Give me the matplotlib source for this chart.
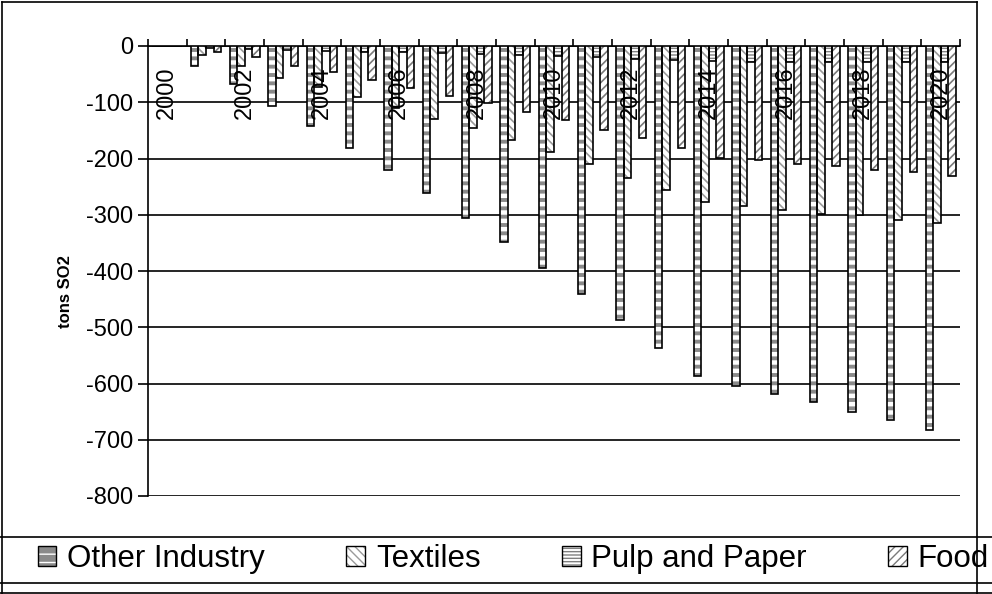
import numpy as np
import matplotlib.pyplot as plt
from matplotlib.patches import Patch
from matplotlib.lines import Line2D
from matplotlib.legend_handler import HandlerTuple

plt.rcParams['font.family'] = ['Liberation Sans', 'DejaVu Sans']
plt.rcParams['axes.unicode_minus'] = False

# Data (tons SO2, change relative to 2000)
years = list(range(2000, 2021))
other_industry = [0, -35, -67, -107, -142, -182, -220, -262, -305, -348, -394,
                  -441, -487, -537, -587, -605, -619, -633, -651, -665, -683]
textiles = [0, -16, -35, -56, -73, -90, -110, -129, -146, -167, -188,
            -210, -234, -256, -278, -284, -292, -298, -301, -309, -315]
pulp_paper = [0, -4, -5, -7, -9, -10, -11, -13, -15, -16, -18,
              -20, -23, -25, -26, -28, -29, -28, -28, -28, -28]
food = [0, -10, -20, -36, -47, -60, -75, -89, -102, -117, -132,
        -149, -163, -182, -199, -203, -210, -213, -220, -224, -231]
series_names = ['Other Industry', 'Textiles', 'Pulp and Paper', 'Food']

# (face colour, hatch colour, hatch, hatch linewidth)
styles = [
    ('#8a8a8a', 'white', '--', 3.2),
    ('white', '#9a9a9a', '\\\\\\\\', 1.2),
    ('white', '#808080', '-----', 1.0),
    ('white', '#7a7a7a', '////', 1.2),
]

fig = plt.figure(figsize=(9.92, 5.94), dpi=100)
ax = fig.add_axes([148/992, 1 - 496/594, 812/992, 450/594])

x = np.arange(len(years))
bw = 0.195
handles = []
for k, (name, vals) in enumerate(zip(series_names,
                                     [other_industry, textiles, pulp_paper, food])):
    face, hcol, hatch, hlw = styles[k]
    pos = x + (k - 1.5) * bw
    with plt.rc_context({'hatch.linewidth': hlw}):
        bars = ax.bar(pos, vals, bw, color=face, edgecolor=hcol, hatch=hatch,
                      linewidth=0, zorder=3)
        for b in bars:
            if hasattr(b, 'set_hatch_linewidth'):
                b.set_hatch_linewidth(hlw)
        ax.bar(pos, vals, bw, fill=False, edgecolor='black', linewidth=1.2, zorder=4)
        p1 = Patch(facecolor=face, edgecolor=hcol, hatch=hatch, linewidth=0)
        if hasattr(p1, 'set_hatch_linewidth'):
            p1.set_hatch_linewidth(hlw)
    p2 = Patch(fill=False, edgecolor='black', linewidth=1)
    handles.append((p1, p2))

ax.set_xlim(-0.5, len(years) - 0.5)
ax.set_ylim(-800, 0)
ax.set_yticks(np.arange(-800, 1, 100))
ax.tick_params(axis='y', direction='out', length=7, width=1.2, labelsize=17, pad=3.5)
ax.yaxis.grid(True, color='black', linewidth=1.2, zorder=0)
ax.set_axisbelow(True)

# category boundary ticks on the zero line
ax.xaxis.tick_top()
ax.set_xticks(np.arange(-0.5, len(years), 1.0))
ax.set_xticklabels([])
ax.tick_params(axis='x', direction='out', length=5, width=1.2)
for i, yr in enumerate(years):
    if yr % 2 == 0:
        ax.annotate(str(yr), xy=(i, 0), xytext=(0, -15), textcoords='offset points',
                    rotation=90, ha='center', va='top', fontsize=17, zorder=5)

for s in ['right', 'bottom']:
    ax.spines[s].set_visible(False)
ax.spines['left'].set_linewidth(1.2)
ax.spines['top'].set_linewidth(1.2)

fig.text(65/992, 1 - 292/594, 'tons SO2', rotation=90, ha='center', va='center',
         fontsize=12, fontweight='bold')

fig.legend(handles, series_names, handler_map={tuple: HandlerTuple(ndivide=1)},
           loc='center left', bbox_to_anchor=(25/992, 1 - 559/594), ncol=4,
           frameon=False, fontsize=22.5, handlelength=0.6, handleheight=0.6,
           handletextpad=0.35, columnspacing=2.6, borderaxespad=0)

# chart frame and legend box
W, H = 992, 594
frame = [((2, 2), (2, 594)), ((2, 977), (2, 2)), ((977, 977), (2, 594)),
         ((0, 992), (537, 537)), ((0, 992), (583, 583)), ((0, 992), (593, 593))]
for xs, ys in frame:
    fig.add_artist(Line2D([v / W for v in xs], [1 - v / H for v in ys],
                          color='black', linewidth=1.2))

fig.savefig('out.png', dpi=100)
